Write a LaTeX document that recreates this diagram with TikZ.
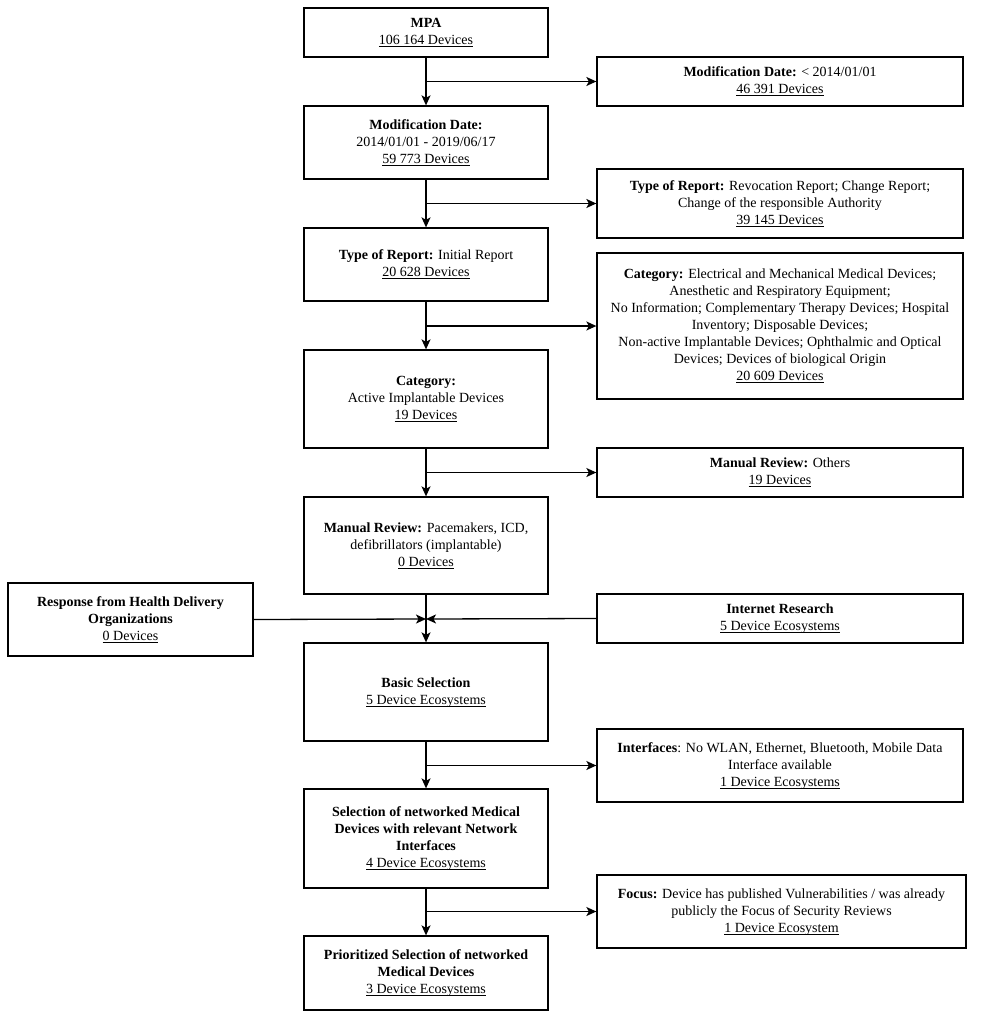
\documentclass[tikz,border=0pt]{standalone}
\usepackage{fontspec}
\setmainfont{Liberation Serif}
\usetikzlibrary{arrows.meta}
\newcommand{\devcount}[1]{\underline{\smash{#1}}}
\begin{document}
\begin{tikzpicture}[x=1pt, y=-1pt, >={Stealth[length=10pt, width=9pt, inset=2.5pt]},
  stage/.style={draw, line width=1.3pt, align=center, inner sep=2pt,
    minimum width=244, font=\fontsize{14}{17}\selectfont},
  excluded/.style={stage, minimum width=366},
  flow/.style={->, line width=1.3pt}]
  \useasboundingbox (0,0) rectangle (992,1024);
  % main column
  \node[stage, minimum height=49] (mpa) at (426, 32.5) {\textbf{MPA}\\ \devcount{106 164 Devices}};
  \node[stage, minimum height=73] (moddate) at (426, 142.5) {\textbf{Modification Date:}\\ 2014/01/01 - 2019/06/17\\ \devcount{59 773 Devices}};
  \node[stage, minimum height=73] (initial) at (426, 264.5) {\textbf{Type of Report:} Initial Report\\ \devcount{20 628 Devices}};
  \node[stage, minimum height=98] (active) at (426, 399) {\textbf{Category:}\\ Active Implantable Devices\\ \devcount{19 Devices}};
  \node[stage, minimum height=97] (pacemakers) at (426, 545.5) {\textbf{Manual Review:} Pacemakers, ICD,\\ defibrillators (implantable)\\ \devcount{0 Devices}};
  \node[stage, minimum height=98] (basic) at (426, 692) {\textbf{Basic Selection}\\ \devcount{5 Device Ecosystems}};
  \node[stage, minimum height=99] (networked) at (426, 838.5) {\textbf{Selection of networked Medical}\\ \textbf{Devices with relevant Network}\\ \textbf{Interfaces}\\ \devcount{4 Device Ecosystems}};
  \node[stage, minimum height=74] (prioritized) at (426, 973) {\textbf{Prioritized Selection of networked}\\ \textbf{Medical Devices}\\ \devcount{3 Device Ecosystems}};
  % excluded devices
  \node[excluded, minimum height=49] (olddate) at (780, 81.5) {\textbf{Modification Date:} < 2014/01/01\\ \devcount{46 391 Devices}};
  \node[excluded, minimum height=69] (otherreport) at (780, 203.5) {\textbf{Type of Report:} Revocation Report; Change Report;\\ Change of the responsible Authority\\ \devcount{39 145 Devices}};
  \node[excluded, minimum height=146] (othercategory) at (780, 326) {\textbf{Category:} Electrical and Mechanical Medical Devices;\\ Anesthetic and Respiratory Equipment;\\ No Information; Complementary Therapy Devices; Hospital\\ Inventory; Disposable Devices;\\ Non-active Implantable Devices; Ophthalmic and Optical\\ Devices; Devices of biological Origin\\ \devcount{20 609 Devices}};
  \node[excluded, minimum height=49] (otherreview) at (780, 472.5) {\textbf{Manual Review:} Others\\ \devcount{19 Devices}};
  \node[excluded, minimum height=73] (interfaces) at (780, 765.5) {\textbf{Interfaces}: No WLAN, Ethernet, Bluetooth, Mobile Data\\ Interface available\\ \devcount{1 Device Ecosystems}};
  \node[excluded, minimum height=73, minimum width=369] (focus) at (781.5, 911.5) {\textbf{Focus:} Device has published Vulnerabilities / was already\\ publicly the Focus of Security Reviews\\ \devcount{1 Device Ecosystem}};
  % additional sources
  \node[stage, minimum height=73, minimum width=245] (hospitals) at (130.5, 619.5) {\textbf{Response from Health Delivery}\\ \textbf{Organizations}\\ \devcount{0 Devices}};
  \node[excluded, minimum height=49] (internet) at (780, 618.5) {\textbf{Internet Research}\\ \devcount{5 Device Ecosystems}};
  \coordinate (join) at (426, 619);
  % connectors
  \draw[flow] (mpa) -- (moddate);
  \draw[flow] (moddate) -- (initial);
  \draw[flow] (initial) -- (active);
  \draw[flow] (active) -- (pacemakers);
  \draw[flow] (pacemakers) -- (basic);
  \draw[flow] (basic) -- (networked);
  \draw[flow] (networked) -- (prioritized);
  \draw[flow] (mpa.south |- olddate.west) -- (olddate.west);
  \draw[flow] (moddate.south |- otherreport.west) -- (otherreport.west);
  \draw[flow] (initial.south |- othercategory.west) -- (othercategory.west);
  \draw[flow] (active.south |- otherreview.west) -- (otherreview.west);
  \draw[flow] (basic.south |- interfaces.west) -- (interfaces.west);
  \draw[flow] (networked.south |- focus.west) -- (focus.west);
  \draw[flow] (hospitals.east) -- (join);
  \draw[flow] (internet.west) -- (join);
\end{tikzpicture}
\end{document}
